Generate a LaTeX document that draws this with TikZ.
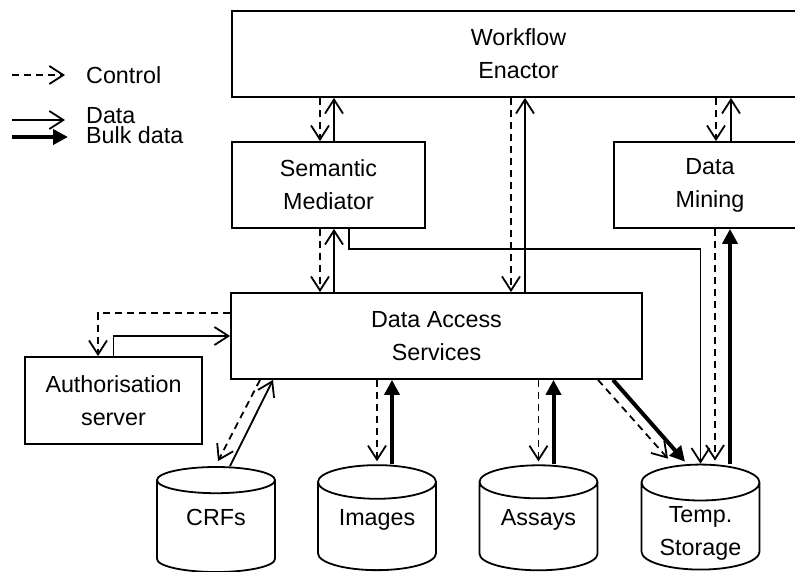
\documentclass[tikz,border=0pt]{standalone}
\usepackage{fontspec}
\setmainfont{Liberation Sans}
\usetikzlibrary{arrows.meta,shapes.geometric}

\tikzset{
  box/.style={draw, line width=1.8pt, minimum height=86pt, align=center, inner sep=0pt},
  store/.style={draw, line width=1.8pt, cylinder, shape border rotate=90, aspect=0.44,
    minimum width=118pt, minimum height=105pt, inner sep=0pt, text depth=19pt},
  ctrl/.style={line width=1.8pt, dash pattern=on 7pt off 5pt, -{Straight Barb[length=14pt,width=18pt]}},
  data/.style={line width=1.8pt, -{Straight Barb[length=14pt,width=18pt]}},
  bulk/.style={line width=4pt, -{Triangle[length=15pt,width=15pt]}}
}

\begin{document}
\begin{tikzpicture}[x=1pt, y=-1pt, font=\fontsize{23.3pt}{33pt}\selectfont]
\useasboundingbox (0,0) rectangle (795,571);
\clip (0,0) rectangle (795,571);

\node[box, minimum width=573pt] (we) at (518.5,54) {Workflow\\Enactor};
\node[box, minimum width=193pt] (sm) at (328.5,185) {Semantic\\Mediator};
\node[box, minimum width=192pt] (dm) at (710,185) {Data\\Mining};
\node[box, minimum width=411pt] (das) at (436.5,336) {Data Access\\Services};
\node[box, minimum width=177pt, minimum height=87pt] (auth) at (113.5,400.5) {Authorisation\\server};

\node[store] (crfs) at (216,526.5) {CRFs};
\node[store] (images) at (377,526.5) {Images};
\node[store] (assays) at (538.5,526.5) {Assays};
\node[store, text depth=] (temp) at (700.5,526.5)
  {\raisebox{-12pt}[14pt][14pt]{\begin{tabular}{@{}c@{}}Temp.\\Storage\end{tabular}}};

\draw[ctrl] ([xshift=-8.5pt]sm.north |- we.south) -- ([xshift=-8.5pt]sm.north);
\draw[data] ([xshift=5.5pt]sm.north) -- ([xshift=5.5pt]sm.north |- we.south);
\draw[ctrl] ([xshift=74.5pt]das.north |- we.south) -- ([xshift=74.5pt]das.north);
\draw[data] ([xshift=88.5pt]das.north) -- ([xshift=88.5pt]das.north |- we.south);
\draw[ctrl] ([xshift=6pt]dm.north |- we.south) -- ([xshift=6pt]dm.north);
\draw[data] ([xshift=21pt]dm.north) -- ([xshift=21pt]dm.north |- we.south);

\draw[ctrl] ([xshift=-8.5pt]sm.south) -- ([xshift=-8.5pt]sm.south |- das.north);
\draw[data] ([xshift=5.5pt]sm.south |- das.north) -- ([xshift=5.5pt]sm.south);
\draw[data] ([xshift=20.5pt]sm.south) -- ++(0,20) -| (temp.north);

\draw[ctrl] ([xshift=5pt]dm.south) -- ([xshift=5pt, yshift=3pt]dm.south |- temp.north);
\draw[bulk] ([xshift=29.5pt]temp.north) -- ([xshift=29.5pt]temp.north |- dm.south);

\draw[ctrl] ([xshift=-176.5pt]das.south) -- ([xshift=2pt, yshift=5pt]crfs.north);
\draw[data] ([xshift=14pt]crfs.north) -- ([xshift=-163.5pt]das.south);
\draw[ctrl] (images.north |- das.south) -- ([yshift=3pt]images.north);
\draw[bulk] ([xshift=15pt]images.north) -- ([xshift=15pt]images.north |- das.south);
\draw[ctrl] (assays.north |- das.south) -- ([yshift=3pt]assays.north);
\draw[bulk] ([xshift=15pt]assays.north) -- ([xshift=15pt]assays.north |- das.south);
\draw[ctrl] ([xshift=161.5pt]das.south) -- ([xshift=-32.5pt, yshift=5pt]temp.north);
\draw[bulk] ([xshift=176.5pt]das.south) -- ([xshift=-15.5pt, yshift=2pt]temp.north);

\draw[ctrl] ([yshift=23pt]das.west) -| ([xshift=-15.5pt]auth.north);
\draw[data] (auth.north) |- (das.west);

\node[anchor=base west, inner sep=0pt] (lgctrl) at (86,83) {Control};
\node[anchor=base west, inner sep=0pt] (lgdata) at (86,123) {Data};
\node[anchor=base west, inner sep=0pt] (lgbulk) at (86,143) {Bulk data};
\coordinate (c1) at (12,75);
\coordinate (c2) at (12,120);
\coordinate (c3) at (12,137);
\draw[ctrl] (c1) -- (c1 -| 65,0);
\draw[data] (c2) -- (c2 -| 65,0);
\draw[bulk] (c3) -- (c3 -| 68,0);

\end{tikzpicture}
\end{document}
